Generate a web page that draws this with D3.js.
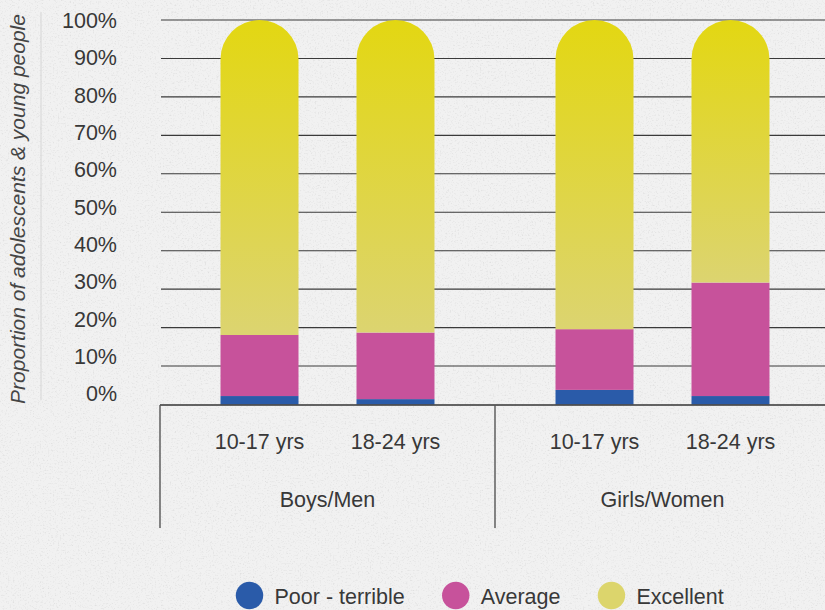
<!DOCTYPE html>
<html>
<head>
<meta charset="utf-8">
<script src="https://cdn.jsdelivr.net/npm/d3@7"></script>
<style>
  html, body { margin: 0; padding: 0; background: #f0f0f0; }
  svg { display: block; font-family: "Liberation Sans", Arial, sans-serif; }
</style>
</head>
<body>
<svg id="chart" width="825" height="610"></svg>
<script>
// Self-rated wellbeing by gender and age group (share of respondents, %)
const groups = ["Boys/Men", "Girls/Women"];
const ageBands = ["10-17 yrs", "18-24 yrs"];
const poor      = [2.2, 1.4, 3.8, 2.2];   // Poor - terrible
const average   = [15.9, 17.3, 15.8, 29.5];
const excellent = [81.9, 81.3, 80.4, 68.3];
const seriesNames = ["Poor - terrible", "Average", "Excellent"];
const yTicks = [0, 10, 20, 30, 40, 50, 60, 70, 80, 90, 100];
const yTitle = "Proportion of adolescents & young people";

const colors = { poor: "#2a5ba9", average: "#c7529b", excellentTop: "#e3d712", excellentBottom: "#dcd470", legendExcellent: "#dcd56c" };
const textColor = "#383838";
const fontSize = 21.5;

const svg = d3.select("#chart");
const W = 825, H = 610;

// paper-like speckled background
const defs = svg.append("defs");
const noise = defs.append("filter").attr("id", "grain").attr("x", 0).attr("y", 0).attr("width", "100%").attr("height", "100%");
noise.append("feTurbulence").attr("type", "fractalNoise").attr("baseFrequency", 0.6).attr("numOctaves", 3).attr("seed", 11).attr("result", "n");
noise.append("feColorMatrix").attr("in", "n").attr("type", "matrix")
  .attr("values", "0 0 0 0 0.35  0 0 0 0 0.35  0 0 0 0 0.35  2.6 0 0 0 -1.4");
svg.append("rect").attr("width", W).attr("height", H).attr("fill", "#f1f1f1");
svg.append("rect").attr("width", W).attr("height", H).attr("filter", "url(#grain)").attr("opacity", 0.22);

const grad = defs.append("linearGradient").attr("id", "excGrad")
  .attr("x1", 0).attr("y1", 0).attr("x2", 0).attr("y2", 1);
grad.append("stop").attr("offset", "0%").attr("stop-color", colors.excellentTop);
grad.append("stop").attr("offset", "100%").attr("stop-color", colors.excellentBottom);

// scales
const y = d3.scaleLinear().domain([0, 100]).range([404.5, 20]);
const yLabel = d3.scaleLinear().domain([0, 100]).range([394, 20.5]);
const x0 = d3.scaleBand().domain(groups).range([160, 830]);
const x1 = d3.scaleBand().domain(ageBands).range([0, x0.bandwidth()])
  .paddingInner(0.4265).paddingOuter(0.445);

const rows = [];
groups.forEach((g, gi) => ageBands.forEach((a, ai) => {
  const i = gi * ageBands.length + ai;
  rows.push({ group: g, age: a, poor: poor[i], average: average[i], excellent: excellent[i] });
}));

// gridlines
svg.append("g").selectAll("line").data(yTicks.filter(t => t > 0)).join("line")
  .attr("x1", 161).attr("x2", W)
  .attr("y1", d => y(d)).attr("y2", d => y(d))
  .attr("stroke", "#3a3a3a").attr("stroke-width", 1.1);

// tick labels
const axis = svg.append("g").attr("transform", "translate(117,0)")
  .call(d3.axisLeft(yLabel).tickValues(yTicks).tickSize(0).tickPadding(0).tickFormat(d => d + "%"));
axis.select(".domain").remove();
axis.selectAll("text").attr("font-size", fontSize).attr("fill", textColor)
  .attr("font-family", "'Liberation Sans', Arial, sans-serif");

// y title and its rule
svg.append("line").attr("x1", 41).attr("x2", 41).attr("y1", 12).attr("y2", 400)
  .attr("stroke", "#d6d6d6").attr("stroke-width", 1);
svg.append("text").attr("transform", "translate(25,209) rotate(-90)")
  .attr("text-anchor", "middle").attr("font-size", 21).attr("font-style", "italic")
  .attr("fill", "#454545").text(yTitle);

// bars
const barG = svg.append("g");
rows.forEach(r => {
  const bx = x0(r.group) + x1(r.age);
  const w = x1.bandwidth();
  barG.append("rect").attr("x", bx).attr("width", w)
    .attr("y", y(r.poor)).attr("height", y(0) - y(r.poor)).attr("fill", colors.poor);
  barG.append("rect").attr("x", bx).attr("width", w)
    .attr("y", y(r.poor + r.average)).attr("height", y(r.poor) - y(r.poor + r.average)).attr("fill", colors.average);
  const yb = y(r.poor + r.average), yt = y(r.poor + r.average + r.excellent), rad = w / 2;
  const p = d3.path();
  p.moveTo(bx, yb);
  p.lineTo(bx, yt + rad);
  p.arc(bx + rad, yt + rad, rad, Math.PI, 0);
  p.lineTo(bx + w, yb);
  p.closePath();
  barG.append("path").attr("d", p.toString()).attr("fill", "url(#excGrad)");
});

// baseline and group dividers
svg.append("line").attr("x1", 160).attr("x2", W).attr("y1", 405).attr("y2", 405)
  .attr("stroke", "#333").attr("stroke-width", 1.3);
svg.append("g").selectAll("line").data(groups).join("line")
  .attr("x1", d => x0(d)).attr("x2", d => x0(d))
  .attr("y1", 405).attr("y2", 528)
  .attr("stroke", "#555").attr("stroke-width", 1.4);

// category labels
svg.append("g").selectAll("text").data(rows).join("text")
  .attr("x", d => x0(d.group) + x1(d.age) + x1.bandwidth() / 2)
  .attr("y", 449).attr("text-anchor", "middle").attr("font-size", fontSize).attr("fill", textColor)
  .text(d => d.age);
svg.append("g").selectAll("text").data(groups).join("text")
  .attr("x", d => x0(d) + x1.bandwidth() / 2 + (x1(ageBands[0]) + x1(ageBands[1])) / 2)
  .attr("y", 507).attr("text-anchor", "middle").attr("font-size", fontSize).attr("fill", textColor)
  .text(d => d);

// legend
const legendColors = [colors.poor, colors.average, colors.legendExcellent];
const leg = svg.append("g");
let cx = 249.5;
seriesNames.forEach((name, i) => {
  leg.append("circle").attr("cx", cx).attr("cy", 595.5).attr("r", 13.7).attr("fill", legendColors[i]);
  const t = leg.append("text").attr("x", cx + 25).attr("y", 604)
    .attr("font-size", fontSize).attr("fill", textColor).text(name);
  cx = cx + 25 + t.node().getComputedTextLength() + 51;
});
</script>
</body>
</html>
